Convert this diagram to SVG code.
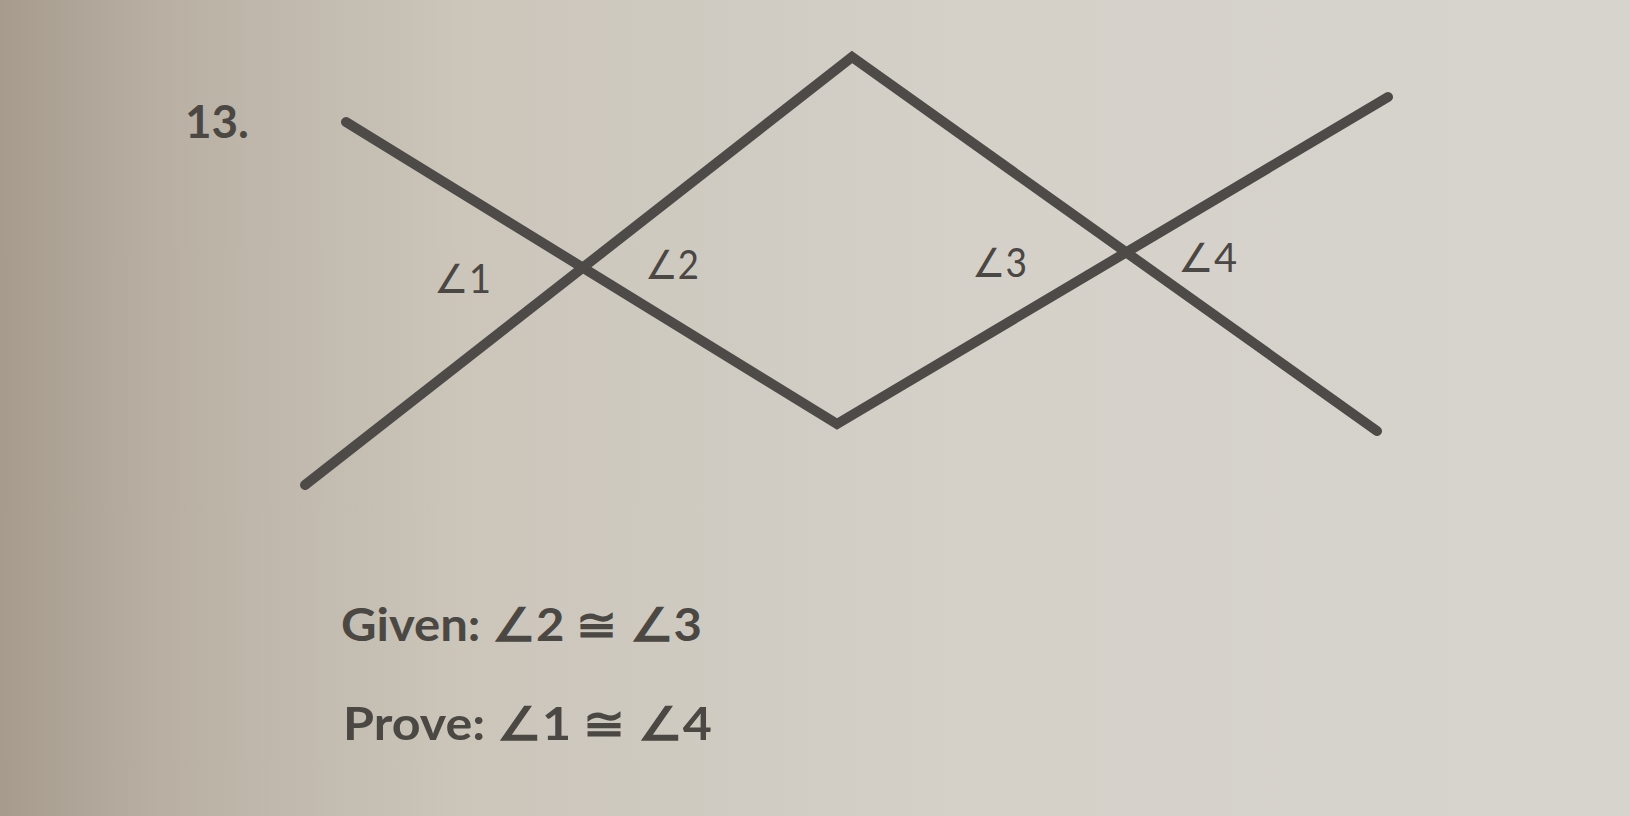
<svg xmlns="http://www.w3.org/2000/svg" width="1630" height="816" viewBox="0 0 1630 816">
  <defs>
    <linearGradient id="bg" x1="0" y1="0" x2="1" y2="0">
      <stop offset="0" stop-color="#a69b8d"/>
      <stop offset="0.1" stop-color="#b9b0a3"/>
      <stop offset="0.28" stop-color="#cbc5ba"/>
      <stop offset="0.6" stop-color="#d5d1c9"/>
      <stop offset="1" stop-color="#d7d4ce"/>
    </linearGradient>
    <style>
      .ln { fill: none; stroke: #4d4a47; stroke-width: 10; stroke-linejoin: miter; stroke-linecap: round; }
      .lbl { font-family: Lato, "Liberation Sans", sans-serif; font-size: 40px; fill: #4a4744; }
      .txt { font-family: Lato, "Liberation Sans", sans-serif; font-size: 46px; font-weight: bold; fill: #4b4844; }
    </style>
  </defs>
  <rect x="0" y="0" width="1630" height="816" fill="url(#bg)"/>
  <g id="number"><text class="txt" x="185" y="138" textLength="64" lengthAdjust="spacingAndGlyphs">13.</text></g>
  <g id="connectors">
    <polyline class="ln" points="346,122 837,424 1388,97"/>
    <polyline class="ln" points="305,485 852,57 1377,431"/>
  </g>
  <g id="angle1"><text class="lbl" x="434" y="293" textLength="57" lengthAdjust="spacingAndGlyphs">∠1</text></g>
  <g id="angle2"><text class="lbl" x="645" y="279" textLength="54" lengthAdjust="spacingAndGlyphs">∠2</text></g>
  <g id="angle3"><text class="lbl" x="972" y="277" textLength="55" lengthAdjust="spacingAndGlyphs">∠3</text></g>
  <g id="angle4"><text class="lbl" x="1178" y="272" textLength="59" lengthAdjust="spacingAndGlyphs">∠4</text></g>
  <g id="given"><text class="txt" x="341" y="641" textLength="361" lengthAdjust="spacingAndGlyphs">Given: ∠2 ≅ ∠3</text></g>
  <g id="prove"><text class="txt" x="343" y="740" textLength="369" lengthAdjust="spacingAndGlyphs">Prove: ∠1 ≅ ∠4</text></g>
</svg>
